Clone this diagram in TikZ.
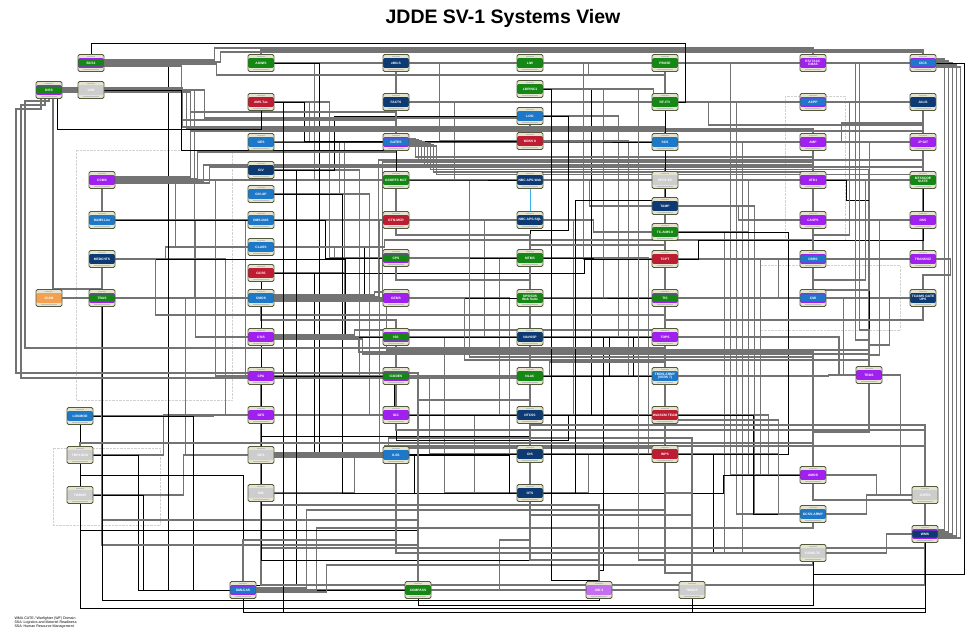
\documentclass[tikz,border=0pt]{standalone}
\usepackage{fontspec}
\setsansfont{Liberation Sans}
\pgfdeclarelayer{bg}
\pgfsetlayers{bg,main}
\definecolor{frame}{RGB}{82,90,58}
\definecolor{hdr}{RGB}{228,228,208}
\definecolor{grn}{RGB}{20,135,20}
\definecolor{nvy}{RGB}{14,58,115}
\definecolor{blu}{RGB}{30,120,200}
\definecolor{rd}{RGB}{190,28,50}
\definecolor{prp}{RGB}{160,32,240}
\definecolor{gry}{RGB}{205,205,205}
\definecolor{org}{RGB}{244,160,80}
\definecolor{lpr}{RGB}{196,110,240}
\definecolor{cyn}{RGB}{60,180,230}
\tikzset{
  sys/.style 2 args={draw=frame, line width=0.9pt, rounded corners=1.6pt, fill=hdr,
    minimum width=26pt, minimum height=17pt, inner sep=0pt, text=white, align=center,
    font=\sffamily\bfseries\fontsize{3.3}{3.6}\selectfont,
    path picture={
      \fill[#2] ([yshift=-3.6pt]path picture bounding box.north west) rectangle ([yshift=3.6pt]path picture bounding box.south east);
      \fill[#1] ([yshift=-5pt]path picture bounding box.north west) rectangle ([yshift=5pt]path picture bounding box.south east);
      \draw[black!25, line width=0.5pt] ([xshift=9pt,yshift=-1.8pt]path picture bounding box.north west) -- ([xshift=-9pt,yshift=-1.8pt]path picture bounding box.north east);
      \draw[black!25, line width=0.5pt] ([xshift=5pt,yshift=1.8pt]path picture bounding box.south west) -- ([xshift=-5pt,yshift=1.8pt]path picture bounding box.south east);
    }},
  wire/.style={draw=black!55, line width=1.15pt},
  blk/.style={draw=black, line width=0.7pt},
}
\begin{document}
\begin{tikzpicture}[x=1pt,y=-1pt]
\useasboundingbox (0,0) rectangle (970,628);
% title
\node[font=\sffamily\bfseries\fontsize{19.5}{22}\selectfont] (title) at (503,18) {JDDE SV-1 Systems View};
% systems, column by column
\foreach \n/\x/\y/\c/\s/\t in {
  dis/49/90/grn/prp/DISS, bcs/91/63/grn/prp/BCS3, vdr/91/90/gry/gry/VDR,
  ccm/102/180/prp/prp/CCMS, dam/102/220/blu/blu/{DAMS Lite}, med/102/259/nvy/nvy/MEDCHTS,
  tra/102/298/grn/prp/TRAS, gui/49/298/org/org/GUIM, lgm/80/416/blu/blu/LOGMOD,
  tmp/80/455/gry/gry/TMPLOGS, twd/80/495/gry/gry/TWDMS,
  agw/261/63/grn/grn/AGWIS, amt/261/102/rd/rd/{AMS-Tac}, ges/261/142/blu/blu/GES,
  giv/261/170/nvy/nvy/GIV, gap/261/194/blu/blu/{GIV-AP}, dms/261/220/blu/blu/{DMS-DAS},
  cls/261/247/blu/blu/CLASS, gcs/261/273/rd/rd/GCSS, cmo/261/298/blu/blu/CMOS,
  csi/261/337/prp/prp/CSIS, cpa/261/376/prp/prp/CPA, gfs/261/415/prp/prp/GFS,
  dcs/261/455/gry/gry/DCS, mis/261/493/gry/gry/MIS,
  emi/396/63/nvy/nvy/eMILS, fac/396/102/nvy/nvy/FACTS, gat/396/142/blu/prp/GATES,
  gso/396/180/grn/grn/{GSORTS MCT}, gtn/396/220/rd/rd/{GTN-MCR}, cps/396/258/grn/prp/CPS,
  gem/396/298/prp/prp/GEMS, iss/396/337/grn/prp/ISS, ico/396/376/grn/prp/ICODES,
  igc/396/415/prp/prp/IGC, ils/396/455/blu/blu/ILSS,
  liw/530/63/grn/grn/LIW, lmp/530/89/grn/grn/{LMP/NC1}, lgi/530/116/blu/blu/LOG,
  mds/530/141/rd/rd/{MDSS II}, nbw/530/180/nvy/nvy/{NBC APS-Web}, nbs/530/220/nvy/nvy/{NBC APS-SQL},
  mtm/530/258/grn/grn/MTMS, sps/530/298/grn/grn/{SPS/SDS\\Web Suite}, nav/530/337/nvy/nvy/NAVSSP,
  nla/530/376/grn/grn/NLAC, ntc/530/415/nvy/nvy/NTCSS, ois/530/454/nvy/nvy/OIS,
  ots/530/493/nvy/nvy/OTS,
  pbu/665/63/grn/grn/PBUSE, rfi/665/102/grn/grn/{RF-ITV}, scs/665/142/blu/blu/SCS,
  spo/665/180/gry/gry/{SPOT-ES}, tam/665/206/nvy/nvy/TAMP, tca/665/232/grn/grn/{TC-AIMS II},
  tcp/665/259/rd/rd/TCPT, tis/665/298/grn/prp/TIS, top/665/337/prp/prp/TOPS,
  tmd/665/376/blu/blu/{TMDS-ARMY\\(VERS 7)}, wsc/665/415/rd/rd/{WebSCM TEAM}, wps/665/454/rd/rd/WPS,
  dla/813/63/prp/prp/{ESI TACC\\CMAS}, acp/813/102/blu/prp/ACPP, amp/813/142/prp/prp/AMP,
  atd/813/180/prp/prp/ATD1, cas/813/220/prp/prp/CASPS, cbr/813/259/blu/prp/CBRS,
  cmi/813/298/blu/prp/CMI, trg/869/375/prp/prp/TRGS, amo/813/475/prp/prp/AMOS,
  gca/813/514/blu/blu/{GCSS-ARMY}, dcm/813/553/gry/gry/{DCMS-TC},
  cic/923/63/blu/prp/CICS, jal/923/102/nvy/nvy/JALIS, jpg/923/142/prp/prp/{JP GIT},
  mts/923/180/grn/grn/{MTSSCOE\\SUITE}, dss/923/220/prp/prp/DSS, tvz/923/259/prp/prp/TRANSVIZ,
  tcg/923/298/nvy/nvy/{TCAIMS GATE\\UPS}, jop/925/495/gry/gry/JOPES, wms/925/534/nvy/prp/WMS,
  gml/243/590/blu/prp/GMLCAS, cmp/418/590/grn/grn/COMPASS, uid/599/590/lpr/lpr/{UID 3},
  tms/692/590/gry/gry/TMSCE}
  \node[sys={\c}{\s}] (\n) at (\x,\y) {\t};
% footer
\node[anchor=north west, align=left, font=\sffamily\fontsize{3.6}{4.2}\selectfont] (note) at (11,613)
  {WMA CATE / Warfighter (WF) Domain\\SSA: Logistics and Materiel Readiness\\SSA: Human Resource Management};
\begin{pgfonlayer}{bg}
\fill[white] (0,0) rectangle (970,628);
% groups
\draw[black!18, densely dotted] (76,150) rectangle (232,400);
\draw[black!18, densely dotted] (53,448) rectangle (160,525);
\draw[black!18, densely dotted] (785,96) rectangle (845,240);
\draw[black!18, densely dotted] (760,265) rectangle (900,330);
% interfaces, east to west
\foreach \a/\b/\o in {ges/gat/40, amt/gat/35, giv/gat/55, gap/gat/65, agw/emi/60, emi/liw/40,
  fac/rfi/150, gso/tam/180, gtn/nbs/30, dms/gtn/45, cls/cps/60, gcs/gem/70, cmo/gem/50,
  csi/iss/40, cpa/ico/40, gfs/igc/55, dcs/ils/60, mis/ils/80, med/cls/50, tra/cmo/60,
  gui/tra/20, lgm/igc/120, tmp/ntc/70, twd/ils/90, ccm/gso/180, dam/gtn/100, liw/pbu/60,
  lmp/rfi/110, lgi/scs/60, mds/tcp/40, nbw/spo/60, nbs/tca/50, mtm/tis/60, sps/tis/40,
  nav/top/40, nla/tmd/50, ntc/wsc/45, ois/wps/60, ots/wps/45, pbu/dla/80, rfi/acp/90,
  scs/amp/70, spo/atd/80, tam/cas/60, tca/cbr/70, tcp/cmi/100, tis/trg/165, top/trg/160,
  tmd/trg/150, wsc/amo/90, wps/gca/100, acp/jal/40, amp/jpg/40, atd/mts/30, cas/dss/35,
  cbr/tvz/30, cmi/tcg/40, dla/cic/50, amo/jop/50, gca/jop/40, dcm/wms/60, trg/jop/18,
  gml/cmp/60, cmp/uid/80, uid/tms/30, gem/mtm/60, iss/nav/50, ico/nla/40, igc/ntc/40,
  ils/ois/70, iss/trg/430, nav/trg/295,
  pbu/amo/52, rfi/gca/58, scs/dcm/64, spo/amo/70, tam/gca/76, tca/dcm/46, tcp/amo/82,
  liw/tcp/40, lmp/tis/60, lgi/top/75, mds/tmd/85, nbw/wps/95, nbs/wsc/30, mtm/wps/105,
  ccm/cls/60, dam/csi/80, med/gfs/110, tra/dcs/70, ccm/cpa/100, dam/ico/130, vdr/cmo/90,
  agw/gso/40, amt/cps/55, ges/iss/70, giv/ico/85, gap/igc/95, dms/ils/105,
  emi/mds/30, fac/nbw/45, gso/mtm/60, gtn/nav/75, cps/ntc/90, gem/ois/100, iss/ots/35,
  ico/ois/20, igc/ots/65}
  \draw[wire] (\a.east) -- ++(\o,0) |- (\b.west);
\foreach \a/\b/\o in {amt/mds/30, giv/lgi/60, cls/sps/90, cpa/ntc/120, csi/nav/100, gem/sps/70,
  gso/nbw/50, ntc/top/60, nla/top/90, iss/tmd/200, mtm/tcp/50, ots/amo/180, ils/ots/100,
  dcs/ots/140, mis/ots/50, lgm/gml/100, tmp/cmp/45, twd/gml/50, ges/scs/300, cmo/tis/290,
  gcs/tcp/310, dam/mtm/210, med/nav/230, bcs/gml/64, agw/ils/45, gap/ots/68, gcs/ois/40,
  lmp/wsc/48, ois/dcm/170, ntc/gca/210, tca/wps/110}
  \draw[blk] (\a.east) -- ++(\o,0) |- (\b.west);
% interfaces routed over a bus row
\foreach \a/\s/\o/\Y/\b/\an in {bcs/3/110/48/dla/north, bcs/1/116/52/cic/north,
  bcs/-1/112/75/rfi/north, bcs/-3/77/120/gat/north, vdr/0/100/118/mds/north,
  dis/2/120/127/scs/north, dis/0/124/129/amp/north, dis/-2/128/131/jpg/north,
  ccm/3/75/112/fac/south, ccm/1/82/152/gat/south, ccm/-1/88/165/atd/north,
  ccm/-3/94/167/tis/north, gat/3/6/157/amp/south, gat/2/9/159.5/jpg/south,
  gat/1/12/162/atd/north, gat/0/15/164.5/cas/north, gat/-1/18/167/dss/north,
  gat/-2/21/169.5/trg/north, gat/-3/24/172/cmi/north, gat/-4/27/174.5/tvz/north,
  cmo/3/100/292/gem/north, cmo/1/104/160/mts/north, cmo/-1/108/162/cbr/north,
  cmo/-3/112/350/trg/north, csi/2/80/330/tmd/north, csi/0/84/352/amo/north,
  csi/-2/88/354/trg/north, dcs/2/110/446/jop/north, dcs/0/114/438/tms/north,
  dcs/-2/118/448/wps/north, gml/2/50/510/wps/south, gml/0/60/528/gca/south,
  gml/-2/70/565/dcm/south, liw/0/45/75/pbu/south, lmp/0/95/560/wps/south,
  rfi/0/30/125/jal/south, amp/0/15/123/jpg/north, tvz/0/14/275/tcg/north,
  cps/0/60/357/amo/north, gem/0/55/360/trg/north, ico/0/140/362/tmd/south,
  med/0/40/315/top/north, cls/0/110/240/cas/south}
  \draw[wire] ([yshift=\s pt]\a.east) -- ++(\o,0) |- (\b.\an |- 0,\Y) -- (\b.\an);
\foreach \a/\s/\o/\Y/\b/\an in {amt/0/9/612/tms/south, lgi/0/25/230/sps/north,
  ots/0/32/200/rfi/south, nla/0/60/570/uid/north, ntc/0/25/440/igc/south,
  tcp/0/20/240/mts/south, atd/0/20/200/trg/north, vdr/0/77/150/gso/north,
  giv/0/22/585/gml/north, lmp/0/8/580/uid/north}
  \draw[blk] ([yshift=\s pt]\a.east) -- ++(\o,0) |- (\b.\an |- 0,\Y) -- (\b.\an);
\foreach \a/\o/\Y/\b/\an in {cic/50/330/trg/north, cic/54/340/trg/north, jpg/40/290/cmi/north,
  dss/30/355/trg/north, tcg/20/345/trg/north, gca/21/420/tmd/south, uid/86/540/ots/south,
  jal/60/235/cbr/north, mts/44/280/cmi/north}
  \draw[wire] (\a.west) -- ++(-\o,0) |- (\b.\an |- 0,\Y) -- (\b.\an);
% interfaces leaving from below / above
\foreach \a/\Y/\b/\an in {tra/545/cmp/north, ils/510/uid/north, mis/505/uid/north,
  igc/430/jop/north, ntc/425/jop/north, tis/320/tcg/south, amo/500/wms/north,
  wps/493/tms/north, ots/515/tms/north, gso/235/mtm/north, tca/245/mtm/north,
  cmo/320/igc/north, cps/280/nla/north, dcs/548/wms/south, ils/553/dcm/south,
  cpa/585/wms/south, med/520/cmp/north}
  \draw[wire] (\a.south) -- (\a.south |- 0,\Y) -| (\b.\an);
\foreach \a/\Y/\b/\an in {tra/600/uid/south, gcs/560/uid/south, gml/612/wms/south,
  cmp/605/dcm/south, twd/608/jop/south, tmp/475/gml/north, gfs/436/ots/north,
  lgm/530/cmp/north}
  \draw[blk] (\a.south) -- (\a.south |- 0,\Y) -| (\b.\an);
\foreach \a/\Y/\b/\an in {agw/50/cic/north, tmp/443/amo/south, amo/432/trg/south,
  cmp/400/nla/south, tms/573/wsc/south, uid/560/ntc/south, gml/540/ils/south}
  \draw[wire] (\a.north) -- (\a.north |- 0,\Y) -| (\b.\an);
% short links
\draw[wire] (emi) -- (fac);
\draw[wire] (fac) -- (gat);
\draw[wire] (ccm) -- (dam);
\draw[wire] (amp) -- (atd);
\draw[wire] (atd) -- (cas);
\draw[wire] (jop) -- (wms);
\draw[wire] (mtm) -- (sps);
\draw[cyn, line width=0.8pt] (nbw) -- (nbs);
% right-hand trunk
\foreach \s/\o in {4/8, 2/12, 0/16, -2/20, -4/24}
  \draw[wire] ([yshift=\s pt]cic.east) -- ++(\o,0) |- ([yshift=\s pt]wms.east);
\draw[blk] (dcm.south) -- ++(0,12) -| ([xshift=28pt]cic.east) -- (cic.east);
\draw[blk] (rfi.east) -- ++(7,0) |- ([yshift=11pt]bcs.north) -- (bcs.north);
% DISS feeds
\draw[wire] ([xshift=-8pt]dis.south) -- ++(0,10) -| (16,373) -| (cmp.north);
\draw[wire] ([xshift=-4pt]dis.south) -- ++(0,6) -| (21,378) -| (ots.north);
\draw[wire] (dis.south) -- ++(0,2) -| (25,348) -| (top.south);
\draw[wire] ([xshift=4pt]dis.south) |- (tra.north);
\draw[blk] ([xshift=8pt]dis.south) -- ++(0,30) -| (amt.south);
\end{pgfonlayer}
\end{tikzpicture}
\end{document}
